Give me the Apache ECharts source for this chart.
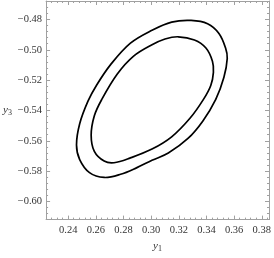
<!DOCTYPE html>
<html>
<head>
<meta charset="utf-8">
<script src="https://cdn.jsdelivr.net/npm/echarts@6/dist/echarts.min.js"></script>
<style>html,body{margin:0;padding:0;background:#fff}#c{width:274px;height:258px}</style>
</head>
<body>
<div id="c"></div>
<script>
// Outer contour, clockwise, closed loop (first point not repeated)
var outerX = [0.2606, 0.2708, 0.2850, 0.3006, 0.3148, 0.3289, 0.3408, 0.3490, 0.3538, 0.3550, 0.3526, 0.3467, 0.3374, 0.3266, 0.3124, 0.3006, 0.2897, 0.2779, 0.2660, 0.2554, 0.2483, 0.2460, 0.2483, 0.2543];
var outerY = [-0.5232, -0.5096, -0.4956, -0.4871, -0.4817, -0.4806, -0.4828, -0.4892, -0.4988, -0.5057, -0.5181, -0.5327, -0.5469, -0.5585, -0.5681, -0.5729, -0.5777, -0.5821, -0.5842, -0.5810, -0.5724, -0.5628, -0.5488, -0.5339];
// Inner contour, clockwise, closed loop
var innerX = [0.2755, 0.2873, 0.3006, 0.3100, 0.3195, 0.3313, 0.3396, 0.3443, 0.3450, 0.3431, 0.3378, 0.3282, 0.3148, 0.3006, 0.2850, 0.2731, 0.2660, 0.2589, 0.2566, 0.2589, 0.2643];
var innerY = [-0.5160, -0.5042, -0.4967, -0.4929, -0.4914, -0.4935, -0.4988, -0.5075, -0.5149, -0.5235, -0.5327, -0.5450, -0.5574, -0.5655, -0.5713, -0.5745, -0.5734, -0.5670, -0.5563, -0.5435, -0.5327];
var xRange = [0.224, 0.3852];
var yRange = [-0.612, -0.4678];
var xName = ['y', '1'];
var yName = ['y', '3'];

function pairs(xs, ys) { return xs.map(function (x, i) { return [x, ys[i]]; }); }

var FRAME = '#a0a0a0';
var TXT = '#333';
var FONT = 'Liberation Serif';
function fmt(v) { return v.toFixed(2).replace('-', '\u2212'); }
var rich = {
  i: { fontFamily: FONT, fontStyle: 'italic', fontSize: 11, lineHeight: 14, color: TXT },
  s: { fontFamily: FONT, fontSize: 8, lineHeight: 14, verticalAlign: 'bottom', color: TXT }
};
function axisBase(extra) {
  var a = {
    type: 'value',
    splitNumber: 8,
    splitLine: { show: false },
    axisLine: { show: true, onZero: false, lineStyle: { color: FRAME, width: 1 } },
    axisTick: { show: true, inside: true, length: 4, lineStyle: { color: FRAME } },
    minorTick: { show: true, splitNumber: 5, length: 2, lineStyle: { color: FRAME } },
    axisLabel: { show: false }
  };
  for (var k in extra) a[k] = extra[k];
  return a;
}

// closed smooth contour through the data points, mapped by the chart's own axes
function contourSeries(xs, ys) {
  var pts = pairs(xs, ys);
  return {
    type: 'custom',
    xAxisIndex: 0, yAxisIndex: 0,
    data: pts,
    encode: { x: 0, y: 1 },
    clip: true,
    renderItem: function (params, api) {
      if (params.dataIndex !== 0) return null;
      var px = pts.map(function (p) { return api.coord(p); });
      return {
        type: 'polygon',
        shape: { points: px, smooth: 0.36 },
        style: { fill: 'none', stroke: '#000', lineWidth: 1.7 }
      };
    }
  };
}

var chart = echarts.init(document.getElementById('c'), null, { renderer: 'canvas' });
chart.setOption({
  animation: false,
  grid: { left: 42, right: 5, top: 1, bottom: 32 },
  xAxis: [
    axisBase({
      position: 'bottom', min: xRange[0], max: xRange[1],
      name: '{i|' + xName[0] + '}{s|' + xName[1] + '}',
      nameLocation: 'middle', nameGap: 12,
      nameTextStyle: { rich: rich },
      axisLabel: { show: true, margin: 5, color: TXT, fontFamily: FONT, fontSize: 10.5,
        showMinLabel: false, showMaxLabel: false, formatter: fmt }
    }),
    axisBase({ position: 'top', min: xRange[0], max: xRange[1] })
  ],
  yAxis: [
    axisBase({
      position: 'left', min: yRange[0], max: yRange[1],
      name: '{i|' + yName[0] + '}{s|' + yName[1] + '}',
      nameLocation: 'middle', nameGap: 30, nameRotate: 0,
      nameTextStyle: { rich: rich },
      axisLabel: { show: true, margin: 4, color: TXT, fontFamily: FONT, fontSize: 10.5,
        showMinLabel: false, showMaxLabel: false, formatter: fmt }
    }),
    axisBase({ position: 'right', min: yRange[0], max: yRange[1] })
  ],
  series: [
    contourSeries(outerX, outerY),
    contourSeries(innerX, innerY)
  ]
});
</script>
</body>
</html>
